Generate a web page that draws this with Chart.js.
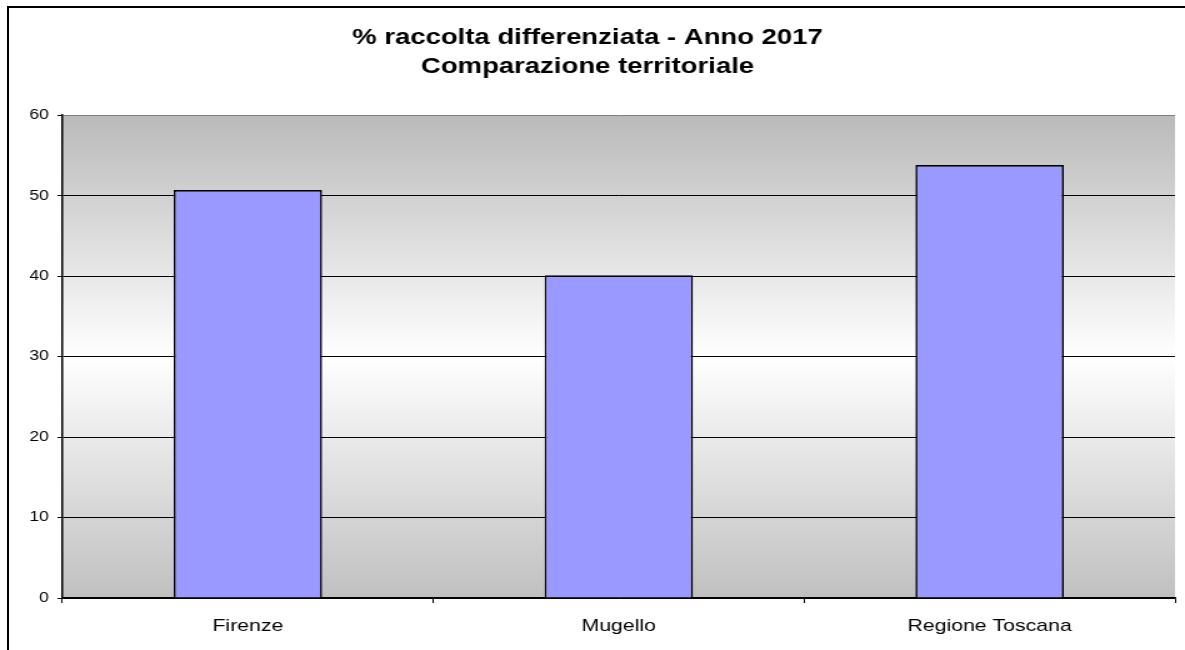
<!DOCTYPE html>
<html>
<head>
<meta charset="utf-8">
<script src="https://cdn.jsdelivr.net/npm/chart.js@4/dist/chart.umd.min.js"></script>
<style>
	html, body { margin: 0; padding: 0; background: #fff; overflow: hidden; width: 1185px; height: 650px; }
	/* outer chart frame, cropped on right and bottom like the original */
	#frame { position: absolute; left: 7px; top: 6px; width: 2000px; height: 2000px; border-left: 2px solid #000; border-top: 2px solid #000; }
	/* the source picture is stretched sideways, so the canvas is too */
	#wrap { position: absolute; left: 0; top: 0; width: 948px; height: 650px; transform: scaleX(1.25); transform-origin: 0 0; }
</style>
</head>
<body>
<div id="frame"></div>
<div id="wrap"><canvas id="myChart" width="948" height="650"></canvas></div>
<script>
//categories and values
const categories = ['Firenze', 'Mugello', 'Regione Toscana'];
const raccolta_values = [50.7, 40.1, 53.8];
const title_lines = ['% raccolta differenziata - Anno 2017', 'Comparazione territoriale'];

const font_family = '"Liberation Sans", Arial, Helvetica, sans-serif';

//grey-white-grey background of the plot area
const plotBackground = {
	id: 'plotBackground',
	beforeDraw(chart) {
		const {ctx, chartArea} = chart;
		const grad = ctx.createLinearGradient(0, chartArea.top, 0, chartArea.bottom);
		grad.addColorStop(0, '#bababa');
		grad.addColorStop(0.5, '#ffffff');
		grad.addColorStop(1, '#c0c0c0');
		ctx.save();
		ctx.fillStyle = grad;
		ctx.fillRect(chartArea.left, chartArea.top, chartArea.right - chartArea.left, chartArea.bottom - chartArea.top);
		ctx.restore();
	}
};

const ctx = document.getElementById('myChart');
const myChart = new Chart(ctx, {
	type: 'bar',
	data: {
		labels: categories,
		datasets: [
			{
				label: '% raccolta differenziata',
				data: raccolta_values,
				backgroundColor: '#9999ff',
				borderColor: '#000000',
				borderWidth: 1.6,
				barPercentage: 0.4,
				categoryPercentage: 1.0
			}
		]
	},
	options: {
		responsive: false,
		animation: false,
		layout: {
			padding: {left: 0, right: 8, top: 0, bottom: 0}
		},
		plugins: {
			legend: {display: false},
			tooltip: {enabled: false},
			title: {
				display: true,
				text: title_lines,
				color: '#000',
				font: {family: font_family, size: 22, weight: 'bold', lineHeight: 1.3},
				padding: {top: 24, bottom: 34}
			}
		},
		scales: {
			x: {
				offset: true,
				grid: {
					offset: true,
					drawOnChartArea: true,
					color: (c) => c.index === 3 ? '#808080' : 'rgba(0,0,0,0)',
					tickColor: '#000',
					tickLength: 5,
					lineWidth: 1
				},
				border: {display: true, color: '#000', width: 1.5},
				ticks: {
					color: '#000',
					font: {family: font_family, size: 17},
					padding: 13,
					maxRotation: 0
				},
				afterFit: (scale) => { scale.height = 52; }
			},
			y: {
				min: 0,
				max: 60,
				ticks: {
					stepSize: 10,
					color: '#000',
					font: {family: font_family, size: 14},
					padding: 7
				},
				grid: {
					color: (c) => c.tick && c.tick.value === 60 ? '#808080' : '#000',
					tickColor: '#000',
					tickLength: 4,
					lineWidth: 1
				},
				border: {display: true, color: '#000', width: 1.5},
				afterFit: (scale) => { scale.width = 50; }
			}
		}
	},
	plugins: [plotBackground]
});
</script>
</body>
</html>
